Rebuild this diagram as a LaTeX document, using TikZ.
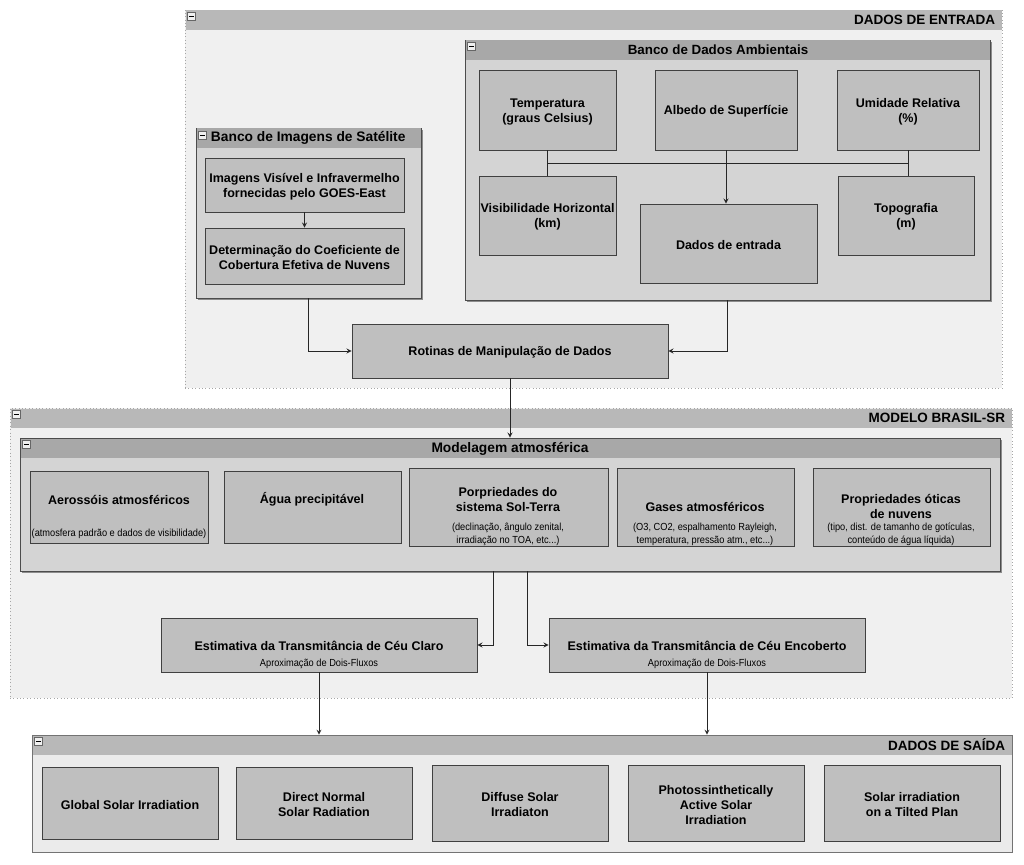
\documentclass[tikz,border=0pt]{standalone}
\usepackage{fontspec}
\setmainfont{Liberation Sans}
\newfontfamily\narrowfont[FakeStretch=0.9]{Liberation Sans}
\usetikzlibrary{fit,shadows,calc}

\begin{document}
\begin{tikzpicture}[
        x=0.025cm, y=-0.025cm,
        txt/.style={font=\fontsize{8.9}{10.7}\selectfont\bfseries, align=center, yshift=-1.2pt},
        subtxt/.style={font=\narrowfont\fontsize{7.3}{9.2}\selectfont, align=center},
        box/.style={draw=black!75, fill=black!25, line width=0.6pt, inner sep=0pt,
            drop shadow={shadow xshift=0.7pt, shadow yshift=-0.7pt, fill=black!60, opacity=1}},
        group/.style={draw=black!35, dotted, fill=black!6, inner sep=0pt},
        grouphead/.style={fill=black!28, inner sep=0pt},
        bank/.style={draw=black!70, fill=black!17, line width=0.6pt, inner sep=0pt,
            drop shadow={shadow xshift=1.5pt, shadow yshift=-1.5pt, fill=black!45, opacity=1}},
        bankhead/.style={fill=black!34, inner sep=0pt},
        grptitle/.style={font=\fontsize{9.6}{11}\selectfont\bfseries, anchor=east},
        banktitle/.style={font=\fontsize{9.8}{11}\selectfont\bfseries},
        tog/.style={draw=black!60, fill=black!6, inner sep=0pt, minimum size=0.2cm, anchor=north west},
        arrow/.style={->, >=stealth, line width=0.6pt, draw=black!85},
        link/.style={line width=0.6pt, draw=black!85}
    ]
        \useasboundingbox[fill=white] (0,0) rectangle (1024,865);

        % Dados de entrada
        \node[group, fit={(185,10) (1002,388)}] (grpIn) {};
        \node[grouphead, fit={(185.5,10.5) (1001.5,30)}] (inHead) {};
        \node[tog] (togIn) at (187,12) {\rule{3.5pt}{1pt}};
        \node[grptitle] (inTitle) at (1000,20) {DADOS DE ENTRADA};

        % Banco de imagens
        \node[bank, fit={(196,128) (421,298)}] (satBank) {};
        \node[bankhead, fit={(196.5,128.5) (420.5,148)}] (satHead) {};
        \node[tog] (togSat) at (198,131) {\rule{3.5pt}{1pt}};
        \node[banktitle, anchor=west] (satTitle) at (206,138) {Banco de Imagens de Satélite};
        \node[box, fit={(205,158) (404,212)}] (imgs) {};
        \node[txt] (imgsT) at (imgs) {Imagens Visível e Infravermelho\\fornecidas pelo GOES-East};
        \node[box, fit={(205,228) (404,284)}] (cob) {};
        \node[txt] (cobT) at (cob) {Determinação do Coeficiente de\\Cobertura Efetiva de Nuvens};

        % Banco ambiental
        \node[bank, fit={(465,40) (990,300)}] (envBank) {};
        \node[bankhead, fit={(465.5,40.5) (989.5,60)}] (envHead) {};
        \node[tog] (togEnv) at (467,42) {\rule{3.5pt}{1pt}};
        \node[banktitle, font=\fontsize{9.5}{11}\selectfont\bfseries] (envTitle) at (718,50) {Banco de Dados Ambientais};
        \node[box, fit={(479,70) (616,150)}] (temp) {};
        \node[txt] (tempT) at (temp) {Temperatura\\(graus Celsius)};
        \node[box, fit={(655,70) (797,150)}] (albedo) {};
        \node[txt] (albedoT) at (albedo) {Albedo de Superfície};
        \node[box, fit={(837,70) (979,150)}] (umid) {};
        \node[txt] (umidT) at (umid) {Umidade Relativa\\(\%)};
        \node[box, fit={(479,176) (616,255)}] (visib) {};
        \node[txt] (visibT) at (visib) {Visibilidade Horizontal\\(km)};
        \node[box, fit={(640,204) (817,283)}] (dados) {};
        \node[txt] (dadosT) at (dados) {Dados de entrada};
        \node[box, fit={(838,176) (974,255)}] (topo) {};
        \node[txt] (topoT) at (topo) {Topografia\\(m)};

        \node[box, fit={(352,324) (668,378)}] (rotinas) {};
        \node[txt] (rotinasT) at (rotinas) {Rotinas de Manipulação de Dados};

        % Modelo Brasil-SR
        \node[group, fit={(10,408) (1012,698)}] (grpMod) {};
        \node[grouphead, fit={(10.5,408.5) (1011.5,428)}] (modHead) {};
        \node[tog] (togMod) at (12,410) {\rule{3.5pt}{1pt}};
        \node[grptitle] (modTitle) at (1010,418) {MODELO BRASIL-SR};

        \node[bank, fit={(20,438) (1000,571)}] (atm) {};
        \node[bankhead, fit={(20.5,438.5) (999.5,458)}] (atmHead) {};
        \node[tog] (togAtm) at (22,440) {\rule{3.5pt}{1pt}};
        \node[banktitle] (atmTitle) at (510,449) {Modelagem atmosférica};

        \node[box, fit={(30,471) (208,543)}] (aer) {};
        \node[txt] (aerT) at (119,498.5) {Aerossóis atmosféricos};
        \node[subtxt] (aerS) at (119,534) {(atmosfera padrão e dados de visibilidade)};
        \node[box, fit={(224,471) (401,543)}] (agua) {};
        \node[txt] (aguaT) at (312,497.5) {Água precipitável};
        \node[box, fit={(409,468) (608,546)}] (sol) {};
        \node[txt] (solT) at (508,498) {Porpriedades do\\sistema Sol-Terra};
        \node[subtxt] (solS) at (508,534) {(declinação, ângulo zenital,\\irradiação no TOA, etc...)};
        \node[box, fit={(617,468) (794,546)}] (gas) {};
        \node[txt] (gasT) at (705,505.5) {Gases atmosféricos};
        \node[subtxt] (gasS) at (705,534) {(O3, CO2, espalhamento Rayleigh,\\temperatura, pressão atm., etc...)};
        \node[box, fit={(813,468) (990,546)}] (otic) {};
        \node[txt] (oticT) at (901,505) {Propriedades óticas\\de nuvens};
        \node[subtxt] (oticS) at (901,534) {(tipo, dist. de tamanho de gotículas,\\conteúdo de água líquida)};

        \node[box, fit={(161,618) (477,672)}] (claro) {};
        \node[txt] (claroT) at (319,644.5) {Estimativa da Transmitância de Céu Claro};
        \node[subtxt] (claroS) at (319,664) {Aproximação de Dois-Fluxos};
        \node[box, fit={(549,618) (865,672)}] (encob) {};
        \node[txt] (encobT) at (707,644.5) {Estimativa da Transmitância de Céu Encoberto};
        \node[subtxt] (encobS) at (707,664) {Aproximação de Dois-Fluxos};

        % Dados de saida
        \node[group, solid, draw=black!55, fill=black!8, fit={(32,735) (1012,852)}] (grpOut) {};
        \node[grouphead, fit={(32.5,735.5) (1011.5,755)}] (outHead) {};
        \node[tog] (togOut) at (34,737) {\rule{3.5pt}{1pt}};
        \node[grptitle] (outTitle) at (1010,745) {DADOS DE SAÍDA};
        \node[box, fit={(42,767) (218,839)}] (glob) {};
        \node[txt] (globT) at (glob) {Global Solar Irradiation};
        \node[box, fit={(236,767) (412,839)}] (dnr) {};
        \node[txt] (dnrT) at (dnr) {Direct Normal\\Solar Radiation};
        \node[box, fit={(432,765) (608,841)}] (diff) {};
        \node[txt] (diffT) at (diff) {Diffuse Solar\\Irradiaton};
        \node[box, fit={(628,765) (804,841)}] (par) {};
        \node[txt] (parT) at (par) {Photossinthetically\\Active Solar\\Irradiation};
        \node[box, fit={(824,765) (1000,841)}] (tilt) {};
        \node[txt] (tiltT) at (tilt) {Solar irradiation\\on a Tilted Plan};

        % Connectors
        \draw[arrow] (imgs) -- (cob);
        \coordinate (busL) at ($(temp.south)!0.5!(visib.north)$);
        \draw[link] (temp) -- (visib);
        \draw[link] (umid.south) -- (umid.south |- topo.north);
        \draw[link] (busL) -- (busL -| umid.south);
        \draw[arrow] (albedo) -- (albedo |- dados.north);
        \draw[arrow] (satBank) |- (rotinas);
        \draw[arrow] (envBank) |- (rotinas);
        \draw[arrow] (rotinas) -- (atm);
        \draw[arrow] ([xshift=-0.425cm]atm.south) |- (claro);
        \draw[arrow] ([xshift=0.425cm]atm.south) |- (encob);
        \draw[arrow] (claro.south) -- (claro.south |- grpOut.north);
        \draw[arrow] (encob.south) -- (encob.south |- grpOut.north);
    \end{tikzpicture}
\end{document}
